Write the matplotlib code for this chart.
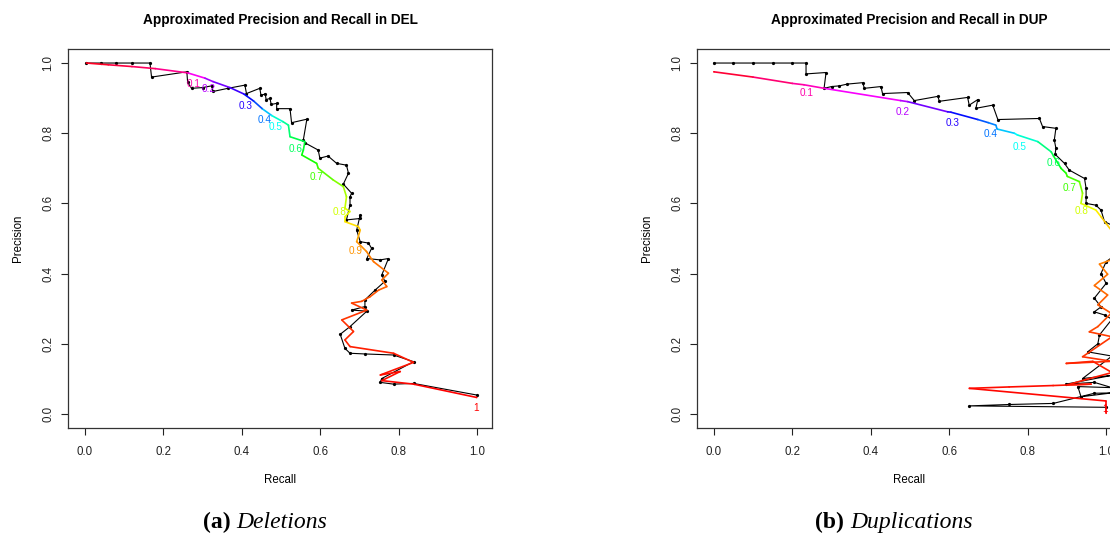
#!/usr/bin/env python3
# Approximated precision / recall curves for DEL and DUP calls (ROCR-style colorized)

import numpy as np
import matplotlib
matplotlib.use("Agg")
import matplotlib.pyplot as plt
from matplotlib.collections import LineCollection

plt.rcParams['font.family'] = ['Liberation Sans', 'DejaVu Sans']

# ---- DEL: approximated curve (black) ----
del_apx_recall = [0.004, 0.04, 0.08, 0.12, 0.166, 0.170, 0.260, 0.262, 0.272, 0.300, 0.323,
                  0.327, 0.365, 0.408, 0.412, 0.446, 0.449, 0.460, 0.462, 0.472, 0.475, 0.489,
                  0.489, 0.523, 0.527, 0.566, 0.557, 0.562, 0.595, 0.599, 0.620, 0.642, 0.667,
                  0.672, 0.659, 0.680, 0.676, 0.676, 0.667, 0.702, 0.702, 0.693, 0.702, 0.723,
                  0.731, 0.719, 0.753, 0.774, 0.757, 0.765, 0.740, 0.714, 0.714, 0.680, 0.719,
                  0.676, 0.651, 0.663, 0.676, 0.714, 0.787, 0.838, 0.757, 0.753, 0.787, 0.838,
                  0.999]
del_apx_prec = [1.000, 1.000, 1.000, 1.000, 1.000, 0.960, 0.975, 0.945, 0.928, 0.930, 0.935,
                0.919, 0.928, 0.937, 0.913, 0.928, 0.908, 0.912, 0.896, 0.899, 0.882, 0.885,
                0.870, 0.870, 0.830, 0.840, 0.781, 0.772, 0.752, 0.729, 0.735, 0.714, 0.709,
                0.686, 0.655, 0.629, 0.619, 0.596, 0.553, 0.557, 0.567, 0.524, 0.491, 0.487,
                0.472, 0.443, 0.439, 0.443, 0.396, 0.378, 0.353, 0.325, 0.306, 0.296, 0.293,
                0.249, 0.227, 0.187, 0.173, 0.171, 0.168, 0.149, 0.101, 0.090, 0.085, 0.087,
                0.054]

# ---- DEL: colorized curve (recall, precision, cutoff) ----
del_recall = [0.004, 0.060, 0.120, 0.180, 0.262, 0.306, 0.327, 0.370, 0.405, 0.430, 0.452,
              0.477, 0.505, 0.519, 0.523, 0.561, 0.557, 0.553, 0.591, 0.595, 0.633, 0.659,
              0.667, 0.663, 0.676, 0.663, 0.663, 0.697, 0.702, 0.693, 0.718, 0.727, 0.736,
              0.774, 0.757, 0.770, 0.749, 0.727, 0.706, 0.680, 0.719, 0.655, 0.685, 0.663,
              0.676, 0.787, 0.838, 0.753, 0.804, 0.757, 0.838, 0.999]
del_prec = [1.000, 0.995, 0.990, 0.984, 0.972, 0.957, 0.947, 0.930, 0.912, 0.892, 0.870,
            0.850, 0.833, 0.823, 0.790, 0.776, 0.752, 0.738, 0.714, 0.700, 0.667, 0.648,
            0.619, 0.586, 0.577, 0.562, 0.548, 0.534, 0.524, 0.491, 0.463, 0.448, 0.434,
            0.401, 0.382, 0.363, 0.353, 0.334, 0.321, 0.316, 0.296, 0.268, 0.235, 0.211,
            0.192, 0.173, 0.147, 0.111, 0.121, 0.095, 0.085, 0.047]
del_cutoff = [0.00, 0.02, 0.04, 0.06, 0.10, 0.20, 0.23, 0.27, 0.30, 0.35, 0.40,
              0.50, 0.55, 0.57, 0.60, 0.62, 0.64, 0.66, 0.69, 0.70, 0.74, 0.76,
              0.78, 0.80, 0.81, 0.82, 0.84, 0.86, 0.87, 0.90, 0.91, 0.915, 0.92,
              0.925, 0.93, 0.935, 0.94, 0.945, 0.95, 0.955, 0.96, 0.965, 0.97, 0.975,
              0.978, 0.98, 0.985, 0.988, 0.99, 0.993, 0.995, 1.00]

# ---- DUP: approximated curve (black) ----
dup_apx_recall = [0.000, 0.05, 0.10, 0.15, 0.20, 0.235, 0.235, 0.286, 0.281, 0.300, 0.320,
                  0.340, 0.379, 0.384, 0.426, 0.430, 0.494, 0.511, 0.571, 0.575, 0.647, 0.651,
                  0.673, 0.668, 0.711, 0.724, 0.830, 0.838, 0.872, 0.868, 0.872, 0.870, 0.894,
                  0.906, 0.945, 0.949, 0.949, 0.949, 0.974, 0.987, 0.996, 1.030, 1.045, 1.000,
                  0.987, 1.000, 0.970, 0.987, 0.970, 0.996, 1.015, 0.983, 0.979, 0.953, 1.015,
                  0.940, 1.015, 0.898, 0.970, 1.015, 0.928, 0.936, 1.015, 0.970, 0.865, 0.753,
                  0.651, 1.000]
dup_apx_prec = [1.000, 1.000, 1.000, 1.000, 1.000, 1.000, 0.969, 0.973, 0.928, 0.933, 0.935,
                0.940, 0.944, 0.928, 0.933, 0.913, 0.916, 0.893, 0.905, 0.891, 0.902, 0.880,
                0.896, 0.871, 0.880, 0.839, 0.842, 0.819, 0.814, 0.781, 0.757, 0.740, 0.714,
                0.695, 0.671, 0.643, 0.619, 0.600, 0.595, 0.581, 0.548, 0.530, 0.470, 0.434,
                0.400, 0.372, 0.330, 0.305, 0.291, 0.282, 0.270, 0.225, 0.200, 0.177, 0.165,
                0.101, 0.110, 0.085, 0.090, 0.075, 0.078, 0.049, 0.060, 0.059, 0.030, 0.027,
                0.023, 0.019]

# ---- DUP: colorized curve (recall, precision, cutoff) ----
dup_recall = [0.000, 0.100, 0.200, 0.230, 0.281, 0.476, 0.494, 0.596, 0.604, 0.673, 0.700,
              0.719, 0.722, 0.766, 0.774, 0.826, 0.860, 0.866, 0.885, 0.898, 0.901, 0.932,
              0.940, 0.936, 0.974, 0.987, 1.013, 1.045, 1.015, 0.983, 1.004, 0.970, 1.004,
              0.979, 1.013, 0.979, 0.957, 1.015, 0.940, 1.015, 0.898, 0.966, 1.015, 0.945,
              0.902, 0.962, 0.865, 0.753, 0.651, 1.000, 1.000]
dup_prec = [0.975, 0.960, 0.942, 0.938, 0.928, 0.893, 0.890, 0.861, 0.860, 0.839, 0.830,
            0.823, 0.812, 0.800, 0.795, 0.776, 0.747, 0.735, 0.700, 0.686, 0.677, 0.662,
            0.629, 0.600, 0.581, 0.562, 0.524, 0.480, 0.440, 0.427, 0.398, 0.366, 0.339,
            0.311, 0.287, 0.249, 0.234, 0.220, 0.163, 0.150, 0.144, 0.150, 0.118, 0.097,
            0.083, 0.085, 0.081, 0.077, 0.073, 0.037, 0.002]
dup_cutoff = [0.00, 0.04, 0.08, 0.10, 0.12, 0.20, 0.21, 0.29, 0.30, 0.36, 0.40,
              0.42, 0.43, 0.48, 0.50, 0.55, 0.60, 0.62, 0.66, 0.69, 0.70, 0.72,
              0.76, 0.80, 0.83, 0.85, 0.87, 0.90, 0.91, 0.915, 0.92, 0.925, 0.93,
              0.94, 0.945, 0.95, 0.955, 0.96, 0.965, 0.97, 0.972, 0.975, 0.98, 0.983,
              0.985, 0.987, 0.988, 0.989, 0.99, 0.995, 1.00]

# ---- printed cutoffs (curve value at each cutoff) ----
cut_labels = ['0.1', '0.2', '0.3', '0.4', '0.5', '0.6', '0.7', '0.8', '0.9', '1']
cut_values = [0.1, 0.2, 0.3, 0.4, 0.5, 0.6, 0.7, 0.8, 0.9, 1.0]
del_cut_recall = [0.271, 0.309, 0.405, 0.454, 0.480, 0.531, 0.586, 0.645, 0.686, 0.992]
del_cut_prec = [0.971, 0.957, 0.910, 0.869, 0.850, 0.788, 0.707, 0.608, 0.495, 0.048]
# 0.9 for DUP falls past the page edge in the original
dup_cut_recall = [0.230, 0.476, 0.604, 0.700, 0.774, 0.860, 0.901, 0.931, 1.100, 0.992]
dup_cut_prec = [0.945, 0.893, 0.861, 0.829, 0.793, 0.747, 0.676, 0.611, 0.480, 0.045]

panels = [
    ("Approximated Precision and Recall in DEL", "(a)", "Deletions",
     del_apx_recall, del_apx_prec, del_recall, del_prec, del_cutoff,
     del_cut_recall, del_cut_prec),
    ("Approximated Precision and Recall in DUP", "(b)", "Duplications",
     dup_apx_recall, dup_apx_prec, dup_recall, dup_prec, dup_cutoff,
     dup_cut_recall, dup_cut_prec),
]

# cutoff -> colour, red at 0 going through magenta, blue, cyan, green, yellow back to red
hsv = matplotlib.colormaps['hsv']


def cut_color(c):
    return hsv(1.0 - np.asarray(c))


fig = plt.figure(figsize=(11.1, 5.33), dpi=100)
renderer = fig.canvas.get_renderer()
W, H = 1110, 533
# right panel is cut off by the page edge in the original
axes_left = [68 / W, 697 / W]
ax_w = 424 / W
ax_b = (H - 428) / H
ax_h = 379 / H

for i, (title, tag, caption, ar, ap, cr, cp, cc, lr, lp) in enumerate(panels):
    ax = fig.add_axes([axes_left[i], ax_b, ax_w, ax_h])

    # approximated curve
    ax.plot(ar, ap, color='black', lw=0.8, marker='o', ms=1.3, zorder=2)

    # colorized curve
    pts = np.column_stack([cr, cp])
    segs = np.stack([pts[:-1], pts[1:]], axis=1)
    cc = np.asarray(cc)
    mid = (cc[:-1] + cc[1:]) / 2
    lc = LineCollection(segs, colors=cut_color(mid), linewidths=1.2, zorder=3)
    ax.add_collection(lc)
    ax.scatter(cr, cp, s=1.5, c=cut_color(cc), zorder=3, linewidths=0)

    for lab, cv, x, y in zip(cut_labels, cut_values, lr, lp):
        if x > 1.06:
            continue
        ax.annotate(lab, (x, y), xytext=(1.5, -8), textcoords='offset points',
                    ha='center', va='center', fontsize=7.2, color=cut_color(cv),
                    zorder=4)

    ax.set_xlim(-0.043, 1.038)
    ax.set_ylim(-0.04, 1.04)
    ticks = np.arange(0, 1.01, 0.2)
    ax.set_xticks(ticks)
    ax.set_yticks(ticks)
    ax.set_xticklabels([f"{v:.1f}" for v in ticks])
    ax.set_yticklabels([f"{v:.1f}" for v in ticks], rotation=90, va='center')
    ax.tick_params(direction='out', length=5, width=0.8, labelsize=8.3, colors='#222222')
    ax.tick_params(axis='x', pad=8)
    ax.tick_params(axis='y', pad=5)
    for sp in ax.spines.values():
        sp.set_linewidth(0.9)
        sp.set_color('#333333')

    ax.set_xlabel("Recall", fontsize=8.3)
    ax.set_ylabel("Precision", fontsize=8.3)
    ax.xaxis.set_label_coords(0.5, -0.122)
    ax.yaxis.set_label_coords(-0.103, 0.5)
    ax.set_title(title, fontsize=9.8, fontweight='bold', pad=18)

    # sub-figure caption: bold tag + italic name, centred together
    cy = 0.02
    t1 = fig.text(0, cy, tag, family='Liberation Serif', fontweight='bold',
                  fontsize=17, ha='left', va='center')
    t2 = fig.text(0, cy, caption, family='Liberation Serif', style='italic',
                  fontsize=17, ha='left', va='center')
    w1 = t1.get_window_extent(renderer).width
    w2 = t2.get_window_extent(renderer).width
    gap = 6
    total = w1 + gap + w2
    x0 = axes_left[i] * W + 197 - total / 2
    t1.set_x(x0 / W)
    t2.set_x((x0 + w1 + gap) / W)

fig.savefig("out.png", dpi=100)
